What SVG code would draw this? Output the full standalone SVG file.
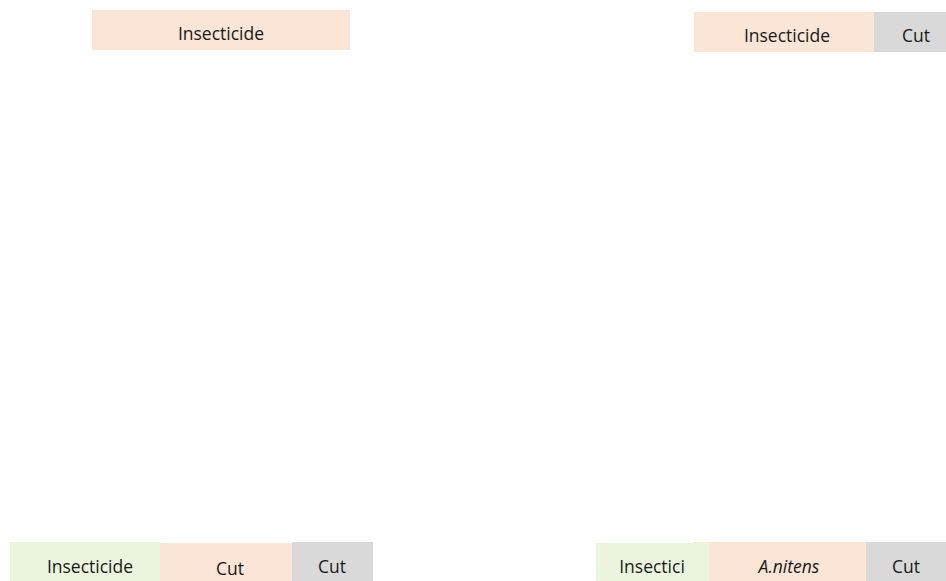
<svg xmlns="http://www.w3.org/2000/svg" width="946" height="581" viewBox="0 0 946 581">
<style>
.p{fill:#FBE5D6}
.g{fill:#D9D9D9}
.gr{fill:#EBF4DC}
text{font-family:"Open Sans","Liberation Sans",sans-serif;font-size:17.5px;fill:#1a1a1a;text-anchor:middle}
.i{font-style:italic}
</style>
<g id="top-left">
<rect class="p" x="92" y="10" width="258" height="40"/>
<text x="221" y="40">Insecticide</text>
</g>
<g id="top-right">
<rect class="p" x="694" y="12" width="180" height="40"/>
<rect class="g" x="874" y="12" width="72" height="40"/>
<text x="787" y="42">Insecticide</text>
<text x="916" y="42">Cut</text>
</g>
<g id="bottom-left">
<rect class="gr" x="10" y="542" width="150" height="39"/>
<rect class="p" x="160" y="543" width="132" height="38"/>
<rect class="g" x="292" y="542" width="81" height="39"/>
<text x="90" y="573">Insecticide</text>
<text x="230" y="575">Cut</text>
<text x="332" y="573">Cut</text>
</g>
<g id="bottom-right">
<rect class="p" x="693" y="542" width="173" height="39"/>
<rect class="gr" x="596" y="543" width="113" height="38"/>
<rect class="g" x="866" y="542" width="80" height="39"/>
<text x="652" y="573">Insectici</text>
<text class="i" x="789" y="573">A.nitens</text>
<text x="906" y="573">Cut</text>
</g>
<g id="connectors"/>
</svg>
